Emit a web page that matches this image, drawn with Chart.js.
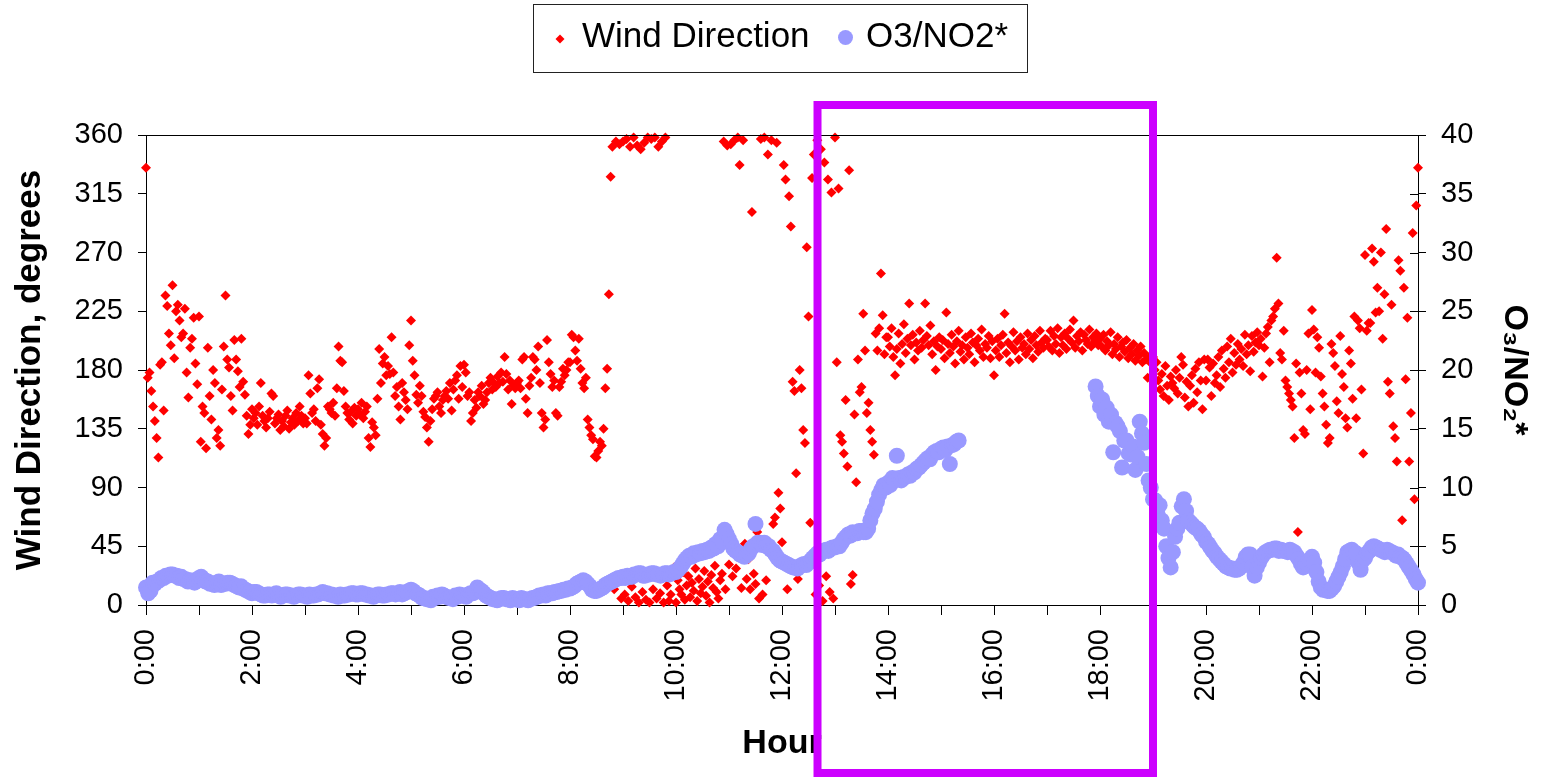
<!DOCTYPE html>
<html>
<head>
<meta charset="utf-8">
<script src="https://cdn.jsdelivr.net/npm/chart.js@4/dist/chart.umd.min.js"></script>
<style>
html,body{margin:0;padding:0;background:#fff;}
#wrap{width:1545px;height:781px;position:relative;}
</style>
</head>
<body>
<div id="wrap"><canvas id="chart"></canvas></div>
<script>
// ---- DATA ----
// Wind direction (degrees), one reading every 2 minutes from 0:00 to 24:00
const windStepMinutes = 2;
const windDir_00_04 = [
  335,174,178,164,152,141,128,113,184,186,149,237,229,208,199,245,189,225,230,218,205,208,227,178,159,197,204,220,185,169,
  221,125,152,147,120,197,160,142,180,170,128,134,122,165,198,237,188,182,160,149,203,188,179,167,204,171,161,145,131,138,
  150,143,147,138,152,170,145,141,136,143,148,162,160,139,143,146,134,141,137,145,149,135,140,143,138,147,141,152,145,139,
  143,139,176,162,147,150,141,166,173,138,131,122,128,152,150,147,155,145,166,198,187,186,164,152,147,142,148,139,151,145
];
const windDir_04_08 = [
  150,146,155,143,148,152,128,121,140,136,130,158,196,170,185,190,176,183,177,205,178,160,167,152,142,170,163,157,150,199,
  218,187,176,161,155,168,160,148,144,136,125,141,150,158,160,163,152,147,157,160,164,158,170,149,165,172,176,158,183,167,
  184,178,160,163,141,147,157,151,163,160,168,154,157,163,170,174,165,170,167,175,170,178,171,190,177,165,172,154,168,166,
  170,172,166,188,190,158,147,168,174,190,188,180,198,170,147,136,142,203,186,177,167,172,147,145,167,171,181,176,180,186
];
const windDir_08_12 = [
  186,207,205,195,187,204,181,170,166,174,142,136,130,127,114,113,118,125,122,135,166,181,238,328,351,12,355,20,353,5,
  355,8,357,3,351,14,358,6,352,2,349,10,354,4,358,2,357,12,358,5,351,9,355,2,358,15,3,8,22,29,
  2,19,12,8,25,4,15,22,6,17,11,28,3,20,9,14,26,7,18,2,23,13,30,10,5,19,24,355,12,352,
  31,353,22,356,28,358,337,13,356,47,20,35,12,301,24,16,56,5,357,8,358,19,345,48,356,62,67,354,86,74
];
const windDir_12_16 = [
  48,337,326,12,313,290,171,164,101,20,180,166,134,124,274,221,63,327,345,8,356,15,349,3,339,22,326,10,316,5,
  358,186,319,130,125,116,157,106,333,16,23,146,94,188,163,167,223,195,147,155,134,125,115,208,195,212,254,222,192,205,
  205,198,212,190,176,196,208,185,200,215,193,204,231,199,207,188,201,195,210,197,203,231,206,199,214,192,202,180,198,205,
  196,203,189,224,200,193,207,198,185,202,210,194,199,188,205,197,192,208,201,186,199,204,195,211,190,200,197,206,189,202
];
const windDir_16_20 = [
  176,195,204,190,199,207,223,193,201,186,198,209,195,202,188,205,197,200,192,208,196,203,189,206,199,194,210,201,197,204,
  203,198,210,195,206,200,212,193,205,199,208,196,204,211,201,218,197,206,202,209,195,207,203,200,211,198,205,202,208,199,
  204,198,207,195,202,199,209,192,200,196,205,190,198,201,194,203,189,197,192,200,187,195,191,198,186,193,188,174,190,185,
  190,180,186,172,165,177,160,183,168,157,175,170,166,180,162,174,190,184,159,171,152,168,176,155,181,163,186,172,150,188
];
const windDir_20_24 = [
  172,188,182,160,185,170,176,190,167,195,181,174,198,186,204,178,193,184,200,188,196,183,207,192,199,179,206,194,201,209,
  199,204,175,197,208,213,186,218,221,227,266,231,193,188,210,172,167,162,157,152,128,185,56,178,162,134,131,180,208,150,
  226,211,178,205,197,175,162,152,138,124,128,200,193,183,156,147,206,177,167,143,136,195,185,158,221,143,218,212,165,116,
  268,210,216,216,273,263,224,243,225,270,204,238,288,171,162,230,137,128,110,264,256,65,243,173,220,110,147,285,81,306,
  335
];

// O3/NO2* ratio, one value every 2.5 minutes from 0:00 to 24:00 (null = no data)
const o3StepMinutes = 2.5;
const o3no2_00_06 = [
  1.5,1.0,1.2,1.9,1.8,2.0,2.1,2.3,2.3,2.5,2.5,2.6,2.6,2.5,2.5,2.3,2.4,2.2,2.2,2.0,2.1,2.0,1.9,2.1,
  2.3,2.4,2.2,2.0,2.0,1.8,1.8,1.7,1.9,2.0,1.7,1.8,1.8,1.9,1.9,1.8,1.7,1.6,1.5,1.6,1.4,1.3,1.2,1.1,
  1.0,1.1,1.1,1.0,0.9,0.8,0.8,0.9,0.9,0.8,0.9,1.0,0.8,0.7,0.8,0.9,0.9,0.8,0.8,0.7,0.8,0.9,0.9,0.8,
  0.8,0.7,0.9,0.8,0.8,0.9,0.9,1.0,1.1,1.0,1.0,0.9,0.9,0.8,0.8,0.7,0.9,0.8,0.8,0.9,0.9,1.0,1.0,0.9,
  0.9,1.0,1.0,0.9,0.9,0.8,0.8,0.7,0.8,0.9,0.9,0.8,0.8,0.9,0.9,1.0,1.0,0.9,1.0,1.1,0.9,1.0,1.1,1.2,
  1.3,1.2,1.0,0.9,0.8,0.6,0.6,0.5,0.5,0.4,0.7,0.6,0.8,0.7,0.9,0.8,0.7,0.6,0.6,0.5,0.8,0.7,0.9,0.8
];
const o3no2_06_12 = [
  0.8,0.7,0.9,1.0,1.0,1.1,1.5,1.3,1.2,1.0,0.8,0.7,0.6,0.5,0.5,0.4,0.5,0.6,0.6,0.5,0.5,0.4,0.6,0.5,
  0.5,0.4,0.6,0.5,0.5,0.4,0.5,0.6,0.6,0.7,0.8,0.8,0.9,0.8,1.0,1.0,1.0,1.1,1.1,1.2,1.2,1.3,1.3,1.4,
  1.4,1.5,1.6,1.8,1.9,2.0,2.1,2.0,1.8,1.6,1.3,1.2,1.2,1.3,1.4,1.5,1.7,1.8,1.9,2.0,2.1,2.2,2.3,2.3,
  2.4,2.3,2.5,2.4,2.4,2.6,2.6,2.7,2.7,2.5,2.5,2.6,2.6,2.7,2.7,2.6,2.6,2.5,2.6,2.7,2.7,2.6,2.7,2.8,
  2.8,3.0,3.2,3.5,3.8,4.0,4.2,4.1,4.4,4.3,4.5,4.4,4.6,4.5,4.7,4.6,4.9,4.8,5.2,5.0,5.6,5.4,6.4,6.0,
  5.6,5.2,4.8,4.6,4.5,4.3,4.2,4.1,4.3,4.4,4.8,5.0,6.9,5.3,5.3,5.1,5.3,5.0,5.0,4.7,4.6,4.3,4.0,3.8
];
const o3no2_12_18 = [
  3.7,3.6,3.5,3.4,3.3,3.2,3.2,3.1,3.3,3.4,3.5,3.4,3.6,3.8,4.0,4.2,4.4,4.3,4.5,4.6,4.7,4.6,4.8,4.9,
  4.9,5.0,5.0,5.3,5.6,5.8,6.0,5.9,6.2,6.1,6.1,6.3,6.3,6.2,6.2,6.5,7.2,7.8,8.2,8.8,9.4,9.8,10.2,10.0,
  10.4,10.2,10.8,10.6,12.7,10.8,10.6,10.9,10.9,11.1,11.0,11.3,11.3,11.6,11.7,11.9,12.1,12.3,12.5,12.4,12.8,13.0,13.1,13.0,
  13.3,13.4,13.2,13.5,12.0,13.6,13.7,13.9,14.0,null,null,null,null,null,null,null,null,null,null,null,null,null,null,null,
  null,null,null,null,null,null,null,null,null,null,null,null,null,null,null,null,null,null,null,null,null,null,null,null,
  null,null,null,null,null,null,null,null,null,null,null,null,null,null,null,null,null,null,null,null,null,null,18.6,17.8
];
const o3no2_18_24 = [
  16.9,17.5,16.2,16.8,15.6,16.2,13.0,15.5,15.2,14.8,11.7,14.0,14.0,12.9,12.8,13.5,11.5,12.6,15.6,14.6,13.8,12.0,10.6,10.0,
  9.0,8.9,7.8,8.5,7.2,6.5,5.0,4.0,3.2,4.5,5.8,6.5,7.0,8.4,9.0,8.0,7.2,7.0,6.8,6.6,6.5,6.3,6.0,5.8,
  5.4,5.2,4.9,4.6,4.4,4.1,3.9,3.7,3.5,3.3,3.2,3.1,3.1,3.0,3.0,3.1,3.3,3.6,4.1,4.3,4.3,3.2,2.5,3.2,
  3.6,4.0,4.3,4.5,4.6,4.7,4.7,4.8,4.8,4.6,4.7,4.6,4.6,4.5,4.7,4.6,4.5,4.2,3.9,3.5,3.2,3.3,3.5,3.8,
  4.1,3.6,2.8,2.0,1.5,1.3,1.3,1.2,1.2,1.4,1.6,2.0,2.4,2.8,3.3,3.9,4.5,4.6,4.7,4.5,4.4,3.6,3.0,3.8,
  4.0,4.4,4.6,4.9,5.0,4.9,4.8,4.7,4.6,4.5,4.7,4.6,4.5,4.4,4.2,4.3,4.1,4.0,3.8,3.5,3.2,2.9,2.6,2.2,
  1.9
];

// Axis tick labels
const hourTickLabels = ['0:00','','2:00','','4:00','','6:00','','8:00','','10:00','','12:00','','14:00','','16:00','','18:00','','20:00','','22:00','','0:00'];
const windTicks = [0,45,90,135,180,225,270,315,360];
const ratioTicks = [0,5,10,15,20,25,30,35,40];

// Highlighted period (hours)
const highlightStartHour = 12.67;
const highlightEndHour = 19.0;

// ---- BUILD ----
const windDirection = [].concat(windDir_00_04, windDir_04_08, windDir_08_12, windDir_12_16, windDir_16_20, windDir_20_24);
const o3no2 = [].concat(o3no2_00_06, o3no2_06_12, o3no2_12_18, o3no2_18_24);
const windPoints = windDirection.map((v, i) => ({x: i * windStepMinutes / 60, y: v}));
const o3Points = o3no2.map((v, i) => (v === null ? null : {x: i * o3StepMinutes / 60, y: v})).filter(p => p !== null);

const FONT = '"Liberation Sans", Arial, Helvetica, sans-serif';
Chart.defaults.font.family = FONT;
Chart.defaults.color = '#000';

const decorPlugin = {
  id: 'decor',
  afterDraw(chart) {
    const ctx = chart.ctx;
    const ca = chart.chartArea;
    const xs = chart.scales.x;
    ctx.save();
    // top frame line
    ctx.strokeStyle = '#000';
    ctx.lineWidth = 1;
    ctx.beginPath();
    ctx.moveTo(ca.left, Math.round(ca.top) + 0.5);
    ctx.lineTo(ca.right, Math.round(ca.top) + 0.5);
    ctx.stroke();
    // right axis ticks crossing inward
    const y2 = chart.scales.y2;
    ratioTicks.forEach(t => {
      const py = Math.round(y2.getPixelForValue(t)) + 0.5;
      ctx.beginPath();
      ctx.moveTo(ca.right - 8, py);
      ctx.lineTo(ca.right, py);
      ctx.stroke();
    });

    // legend
    const ds = chart.data.datasets;
    ctx.strokeStyle = '#222';
    ctx.lineWidth = 1;
    ctx.strokeRect(533.5, 4.5, 494, 68);
    ctx.fillStyle = ds[0].backgroundColor;
    ctx.beginPath();
    ctx.moveTo(560, 34.5); ctx.lineTo(564.5, 39); ctx.lineTo(560, 43.5); ctx.lineTo(555.5, 39); ctx.closePath();
    ctx.fill();
    ctx.fillStyle = ds[1].backgroundColor;
    ctx.beginPath();
    ctx.arc(845.5, 37.5, 7.5, 0, Math.PI * 2);
    ctx.fill();
    ctx.fillStyle = '#000';
    ctx.font = '35px ' + FONT;
    ctx.textBaseline = 'alphabetic';
    ctx.textAlign = 'left';
    ctx.fillText(ds[0].label, 582, 47);
    ctx.fillText(ds[1].label, 866, 47);

    // highlight rectangle
    const x0 = xs.getPixelForValue(highlightStartHour);
    const x1 = xs.getPixelForValue(highlightEndHour);
    ctx.strokeStyle = '#CC00FF';
    ctx.lineWidth = 8;
    ctx.strokeRect(x0, ca.top - 30, x1 - x0, chart.height - 8 - (ca.top - 30));
    ctx.restore();
  }
};

new Chart(document.getElementById('chart'), {
  type: 'scatter',
  data: {
    datasets: [
      {
        label: 'Wind Direction',
        data: windPoints,
        yAxisID: 'y',
        pointStyle: 'rectRot',
        pointRadius: 5,
        pointBorderWidth: 0,
        backgroundColor: '#FF0000',
        borderColor: '#FF0000',
        order: 2,
        clip: false
      },
      {
        label: 'O3/NO2*',
        data: o3Points,
        yAxisID: 'y2',
        pointStyle: 'circle',
        pointRadius: 8,
        pointBorderWidth: 0,
        backgroundColor: '#9999FF',
        borderColor: '#9999FF',
        order: 1,
        clip: false
      }
    ]
  },
  options: {
    responsive: true,
    maintainAspectRatio: false,
    animation: false,
    layout: {padding: {top: 135, left: 0, right: 0, bottom: 0}},
    plugins: {legend: {display: false}, tooltip: {enabled: false}},
    scales: {
      x: {
        type: 'linear', min: 0, max: 24, position: 'bottom',
        afterFit(s) { s.height = 176; },
        ticks: {
          stepSize: 1, autoSkip: false, minRotation: 90, maxRotation: 90, padding: 14,
          color: '#000', font: {size: 29},
          callback: (v) => (hourTickLabels[v] !== undefined ? hourTickLabels[v] : '')
        },
        grid: {display: true, drawOnChartArea: false, drawTicks: true, tickLength: 10, color: '#000'},
        border: {display: true, color: '#000', width: 1},
        title: {display: true, text: 'Hour', color: '#000', font: {size: 34, weight: 'bold'}, padding: {top: 0, bottom: 17}}
      },
      y: {
        type: 'linear', position: 'left', min: 0, max: 360,
        afterFit(s) { s.width = 146; },
        afterBuildTicks(s) { s.ticks = windTicks.map(v => ({value: v})); },
        ticks: {color: '#000', font: {size: 29}, padding: 15},
        grid: {display: true, drawOnChartArea: false, drawTicks: true, tickLength: 8, color: '#000'},
        border: {display: true, color: '#000', width: 1},
        title: {display: true, text: 'Wind Direction, degrees', color: '#000', font: {size: 35, weight: 'bold'}, padding: {top: 9, bottom: 0}}
      },
      y2: {
        type: 'linear', position: 'right', min: 0, max: 40,
        afterFit(s) { s.width = 127; },
        afterBuildTicks(s) { s.ticks = ratioTicks.map(v => ({value: v})); },
        ticks: {color: '#000', font: {size: 29}, padding: 15},
        grid: {display: true, drawOnChartArea: false, drawTicks: true, tickLength: 8, color: '#000'},
        border: {display: true, color: '#000', width: 1},
        title: {display: true, text: 'O₃/NO₂*', color: '#000', font: {size: 34, weight: 'bold'}, padding: {top: 10, bottom: 0}}
      }
    }
  },
  plugins: [decorPlugin]
});
</script>
</body>
</html>
